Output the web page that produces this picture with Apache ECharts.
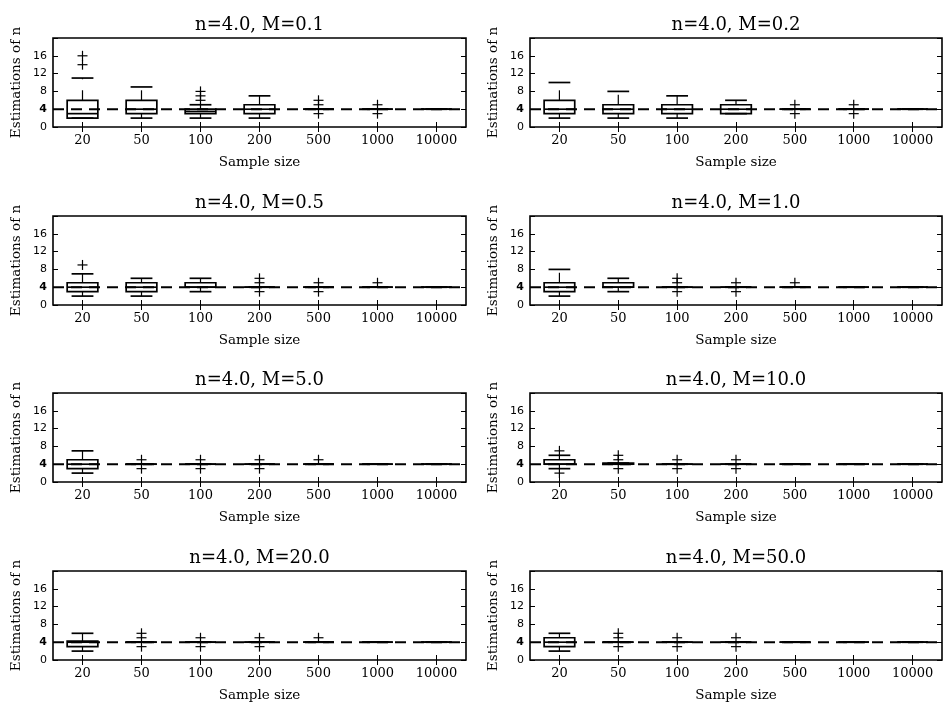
<!DOCTYPE html>
<html>
<head>
<meta charset="utf-8">
<script src="https://cdn.jsdelivr.net/npm/echarts@6.0.0/dist/echarts.min.js"></script>
<style>
html,body{margin:0;padding:0;background:#fff;}
#chart{width:943px;height:705px;}
</style>
</head>
<body>
<div id="chart"></div>
<script>
// ---------- data ----------
const sampleSizes = ['20', '50', '100', '200', '500', '1000', '10000'];
const panelTitles = ['n=4.0, M=0.1', 'n=4.0, M=0.2', 'n=4.0, M=0.5', 'n=4.0, M=1.0',
                     'n=4.0, M=5.0', 'n=4.0, M=10.0', 'n=4.0, M=20.0', 'n=4.0, M=50.0'];
const yTicks = [0, 4, 8, 12, 16];
const trueN = 4;

// box stats per sample size: [lowWhisker, Q1, median, Q3, highWhisker]
const boxM01 = [[2,2,3,6,11],[2,3,4,6,9],[2,3,3.5,4,5],[2,3,4,5,7],[4,4,4,4,4],[4,4,4,4,4],[4,4,4,4,4]];
const fliersM01 = [[14,16],[],[6,7,8],[],[3,5,6],[3,5],[]];

const boxM02 = [[2,3,4,6,10],[2,3,4,5,8],[2,3,4,5,7],[3,3,4,5,6],[4,4,4,4,4],[4,4,4,4,4],[4,4,4,4,4]];
const fliersM02 = [[],[],[],[],[3,5],[3,5],[]];

const boxM05 = [[2,3,4,5,7],[2,3,4,5,6],[3,4,4,5,6],[4,4,4,4,4],[4,4,4,4,4],[4,4,4,4,4],[4,4,4,4,4]];
const fliersM05 = [[9],[],[],[3,5,6],[3,5],[5],[]];

const boxM1 = [[2,3,4,5,8],[3,4,4,5,6],[4,4,4,4,4],[4,4,4,4,4],[4,4,4,4,4],[4,4,4,4,4],[4,4,4,4,4]];
const fliersM1 = [[],[],[3,5,6],[3,5],[5],[],[]];

const boxM5 = [[2,3,4,5,7],[4,4,4,4,4],[4,4,4,4,4],[4,4,4,4,4],[4,4,4,4,4],[4,4,4,4,4],[4,4,4,4,4]];
const fliersM5 = [[],[3,5],[3,5],[3,5],[5],[],[]];

const boxM10 = [[3,4,4,5,6],[4,4,4,4.25,4.25],[4,4,4,4,4],[4,4,4,4,4],[4,4,4,4,4],[4,4,4,4,4],[4,4,4,4,4]];
const fliersM10 = [[2,7],[3,5,6],[3,5],[3,5],[],[],[]];

const boxM20 = [[2,3,4,4.25,6],[4,4,4,4,4],[4,4,4,4,4],[4,4,4,4,4],[4,4,4,4,4],[4,4,4,4,4],[4,4,4,4,4]];
const fliersM20 = [[],[3,5,6],[3,5],[3,5],[5],[],[]];

const boxM50 = [[2,3,4,5,6],[4,4,4,4,4],[4,4,4,4,4],[4,4,4,4,4],[4,4,4,4,4],[4,4,4,4,4],[4,4,4,4,4]];
const fliersM50 = [[],[3,5,6],[3,5],[3,5],[],[],[]];

const panelBoxes = [boxM01, boxM02, boxM05, boxM1, boxM5, boxM10, boxM20, boxM50];
const panelFliers = [fliersM01, fliersM02, fliersM05, fliersM1, fliersM5, fliersM10, fliersM20, fliersM50];

// ---------- layout ----------
const colLeft = [53, 530];
const colWidth = [413, 412];
const rowTop = [38, 216, 393, 571];
const gridH = 89;

const SERIF = 'DejaVu Serif';
const SANS = 'DejaVu Sans';

function renderBox(params, api) {
  const c = api.value(0);
  const lo = api.value(1), q1 = api.value(2), med = api.value(3), q3 = api.value(4), hi = api.value(5);
  const unit = api.size([1, 0])[0];
  const bw = unit * 0.52, cw = unit * 0.37;
  const pLo = api.coord([c, lo]), pQ1 = api.coord([c, q1]), pMed = api.coord([c, med]);
  const pQ3 = api.coord([c, q3]), pHi = api.coord([c, hi]);
  const x = pMed[0];
  const solid = {stroke: '#000', lineWidth: 1.7, fill: null};
  const dashed = {stroke: '#000', lineWidth: 1.2, lineDash: [10, 11], fill: null};
  return {
    type: 'group',
    children: [
      {type: 'line', shape: {x1: x, y1: pQ3[1], x2: x, y2: pHi[1]}, style: dashed},
      {type: 'line', shape: {x1: x, y1: pQ1[1], x2: x, y2: pLo[1]}, style: dashed},
      {type: 'line', shape: {x1: x - cw / 2, y1: pHi[1], x2: x + cw / 2, y2: pHi[1]}, style: solid},
      {type: 'line', shape: {x1: x - cw / 2, y1: pLo[1], x2: x + cw / 2, y2: pLo[1]}, style: solid},
      {type: 'rect', shape: {x: x - bw / 2, y: pQ3[1], width: bw, height: pQ1[1] - pQ3[1]},
        style: {stroke: '#000', lineWidth: 1.7, fill: 'none'}},
      {type: 'line', shape: {x1: x - bw / 2, y1: pMed[1], x2: x + bw / 2, y2: pMed[1]}, style: solid}
    ]
  };
}

function renderFlier(params, api) {
  const p = api.coord([api.value(0), api.value(1)]);
  const h = 5;
  const st = {stroke: '#000', lineWidth: 1.2};
  return {
    type: 'group',
    children: [
      {type: 'line', shape: {x1: p[0] - h, y1: p[1], x2: p[0] + h, y2: p[1]}, style: st},
      {type: 'line', shape: {x1: p[0], y1: p[1] - h, x2: p[0], y2: p[1] + h}, style: st}
    ]
  };
}

function renderHLine(params, api) {
  const cs = params.coordSys;
  const y = api.coord([0, api.value(1)])[1];
  return {
    type: 'line',
    shape: {x1: cs.x, y1: y, x2: cs.x + cs.width, y2: y},
    style: {stroke: '#000', lineWidth: 2, lineDash: [11, 7]}
  };
}

const grids = [], xAxes = [], yAxes = [], series = [], graphics = [];
const tickStyle = {show: true, inside: true, length: 5, lineStyle: {color: '#000', width: 1}};

for (let i = 0; i < 8; i++) {
  const col = i % 2, row = Math.floor(i / 2);
  const left = colLeft[col], top = rowTop[row], w = colWidth[col];
  grids.push({left: left, top: top, width: w, height: gridH, show: true,
    borderColor: '#000', borderWidth: 1.6, backgroundColor: 'transparent', containLabel: false});
  graphics.push({type: 'text', x: left + w / 2, y: top - 12.5, z: 10,
    style: {text: panelTitles[i], fontFamily: SERIF, fontSize: 18, fill: '#000',
      align: 'center', verticalAlign: 'middle', textAlign: 'center', textVerticalAlign: 'middle'}});
}
// bottom x axes
for (let i = 0; i < 8; i++) {
  xAxes.push({type: 'category', gridIndex: i, data: sampleSizes, boundaryGap: true, position: 'bottom',
    axisLine: {show: false}, axisTick: Object.assign({alignWithLabel: true, interval: 0}, tickStyle),
    axisLabel: {interval: 0, color: '#000', fontFamily: SERIF, fontSize: 13, margin: 7},
    splitLine: {show: false},
    name: 'Sample size', nameLocation: 'middle', nameGap: 28,
    nameTextStyle: {color: '#000', fontFamily: SERIF, fontSize: 13.5}});
}
// top x axes (ticks only)
for (let i = 0; i < 8; i++) {
  xAxes.push({type: 'category', gridIndex: i, data: sampleSizes, boundaryGap: true, position: 'top',
    axisLine: {show: false}, axisTick: Object.assign({alignWithLabel: true, interval: 0}, tickStyle),
    axisLabel: {show: false}, splitLine: {show: false}});
}
// left y axes
for (let i = 0; i < 8; i++) {
  yAxes.push({type: 'value', gridIndex: i, min: 0, max: 20, interval: 4, position: 'left',
    axisLine: {show: false}, axisTick: tickStyle, splitLine: {show: false},
    axisLabel: {color: '#000', fontFamily: SANS, fontSize: 11, margin: 6,
      formatter: function (v) {
        if (yTicks.indexOf(v) < 0) return '';
        return v === trueN ? '{b|' + v + '}' : String(v);
      },
      rich: {b: {fontWeight: 'bold', fontFamily: SANS, fontSize: 11, color: '#000'}}},
    name: 'Estimations of n', nameLocation: 'middle', nameGap: 30, nameRotate: 90,
    nameTextStyle: {color: '#000', fontFamily: SERIF, fontSize: 13.5}});
}
// right y axes (ticks only)
for (let i = 0; i < 8; i++) {
  yAxes.push({type: 'value', gridIndex: i, min: 0, max: 20, interval: 4, position: 'right',
    axisLine: {show: false}, axisTick: tickStyle, splitLine: {show: false}, axisLabel: {show: false}});
}

for (let i = 0; i < 8; i++) {
  const boxData = panelBoxes[i].map((b, k) => [k].concat(b));
  const flierData = [];
  panelFliers[i].forEach((arr, k) => arr.forEach(v => flierData.push([k, v])));
  series.push({type: 'custom', xAxisIndex: i, yAxisIndex: i, renderItem: renderHLine,
    data: [[0, trueN]], encode: {x: 0, y: 1}, silent: true, z: 1});
  series.push({type: 'custom', xAxisIndex: i, yAxisIndex: i, renderItem: renderBox,
    data: boxData, encode: {x: 0, y: [1, 2, 3, 4, 5]}, silent: true, z: 2});
  series.push({type: 'custom', xAxisIndex: i, yAxisIndex: i, renderItem: renderFlier,
    data: flierData, encode: {x: 0, y: 1}, silent: true, z: 3});
}

const chart = echarts.init(document.getElementById('chart'), null, {renderer: 'canvas'});
chart.setOption({
  backgroundColor: '#fff',
  animation: false,
  grid: grids,
  xAxis: xAxes,
  yAxis: yAxes,
  series: series,
  graphic: graphics
});
</script>
</body>
</html>
